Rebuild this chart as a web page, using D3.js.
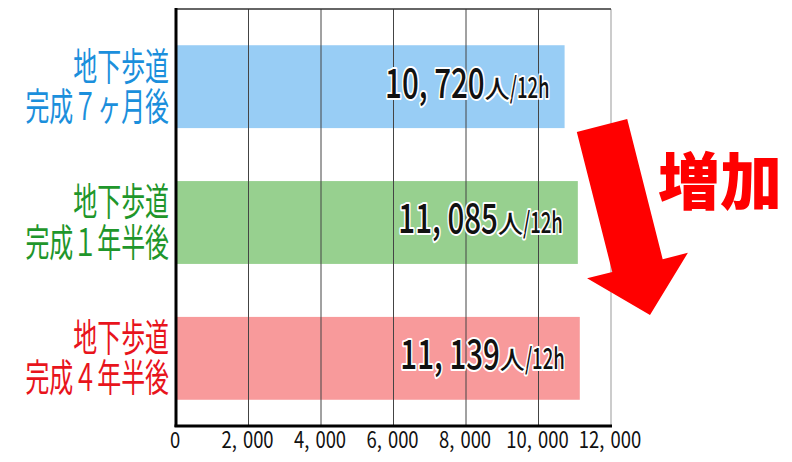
<!DOCTYPE html>
<html><head><meta charset="utf-8">
<script src="https://cdn.jsdelivr.net/npm/d3@7"></script>
<style>html,body{margin:0;padding:0;background:#fff;}</style>
</head><body>
<svg id="chart" width="792" height="462"></svg>
<script>
const categories = [["地下歩道","完成７ヶ月後"],["地下歩道","完成１年半後"],["地下歩道","完成４年半後"]];
const values = [10720, 11085, 11139];
const unitMain = "人";
const unitSub = "/12h";
const tickValues = [0, 2000, 4000, 6000, 8000, 10000, 12000];
const barColors = ["#98cdf5", "#97d08f", "#f89a9b"];
const textColors = ["#1b8fdc", "#1f962b", "#e8141c"];
const annotation = "増加";

const svg = d3.select("#chart");
const m = {left:176, top:9, right:611, bottom:426};
const x = d3.scaleLinear().domain([0,12000]).range([m.left, m.right]);
const y = d3.scaleBand().domain(d3.range(categories.length)).range([m.top, m.bottom])
  .paddingInner(0.39).paddingOuter(0.23).align(0.58);
const fmtTick = v => d3.format(",")(v).replace(",", ",\u2004");
const fmtVal = v => d3.format(",")(v).replace(",", ", ");
const FONT = "'Noto Sans CJK JP', 'Noto Sans', sans-serif";

svg.append("rect").attr("width",792).attr("height",462).attr("fill","#fff");

// bars
svg.selectAll("rect.bar").data(values).join("rect").attr("class","bar")
  .attr("x", x(0)).attr("y", (d,i)=>y(i))
  .attr("width", d=>x(d)-x(0)).attr("height", y.bandwidth())
  .attr("fill", (d,i)=>barColors[i]);

// gridlines
svg.selectAll("line.grid").data(tickValues.slice(1)).join("line").attr("class","grid")
  .attr("x1", d=>x(d)).attr("x2", d=>x(d)).attr("y1", m.top).attr("y2", m.bottom)
  .attr("stroke", d=> d===12000 ? "#999" : "#444").attr("stroke-width", 1);

// top border
svg.append("line").attr("x1", x(0)).attr("x2", x(12000)).attr("y1", m.top).attr("y2", m.top)
  .attr("stroke","#333").attr("stroke-width",1.5);
// bottom axis line
svg.append("line").attr("x1", x(0)-1.5).attr("x2", x(12000)+1).attr("y1", m.bottom).attr("y2", m.bottom)
  .attr("stroke","#000").attr("stroke-width",3);
// left axis line
svg.append("line").attr("x1", x(0)).attr("x2", x(0)).attr("y1", m.top-1).attr("y2", m.bottom+1)
  .attr("stroke","#000").attr("stroke-width",3);

// tick labels
svg.selectAll("g.tick").data(tickValues).join("g").attr("class","tick")
  .attr("transform", d=>`translate(${x(d)-1},448) scale(0.82,1)`)
  .append("text").attr("text-anchor","middle")
  .attr("font-family", FONT).attr("font-size", 22.5).attr("fill","#111")
  .text(d=>fmtTick(d));

// category labels (one text, two lines)
categories.forEach((lines,i)=>{
  const cy = y(i) + y.bandwidth()/2;
  const t = svg.append("g").attr("transform", `translate(169,${cy - 7}) scale(0.63,1)`)
    .append("text").attr("text-anchor","end")
    .attr("font-family", FONT).attr("font-size", 38).attr("fill", textColors[i]);
  lines.forEach((ln,j)=>{
    t.append("tspan").attr("x",0).attr("dy", j===0 ? 0 : 40).text(ln);
  });
});

// value labels
values.forEach((v,i)=>{
  const cy = y(i) + y.bandwidth()/2;
  const base = cy + 11;
  let R = x(v) - 15;
  const halo = sel => sel.attr("font-family", FONT).attr("fill","#111")
    .attr("stroke","#fff").attr("stroke-width",4).attr("paint-order","stroke").attr("stroke-linejoin","round");
  // "/12h"
  const sSub = 0.64;
  const tSub = svg.append("g").attr("transform", `translate(${R},${base}) scale(${sSub},1)`)
    .append("text").attr("text-anchor","end").attr("font-size", 29).attr("font-weight",500)
    .call(halo).text(unitSub);
  R -= tSub.node().getComputedTextLength()*sSub;
  // "人"
  const tMain = svg.append("text").attr("x", R).attr("y", base).attr("text-anchor","end")
    .attr("font-size", 25).attr("font-weight",500).call(halo).text(unitMain);
  R -= tMain.node().getComputedTextLength();
  // number
  svg.append("g").attr("transform", `translate(${R},${base}) scale(0.72,1)`)
    .append("text").attr("text-anchor","end").attr("font-size", 41).attr("font-weight",500)
    .call(halo).text(fmtVal(v));
});

// arrow annotation
(function(){
  const s = [602,125.5], e = [650,315];
  const dx = e[0]-s[0], dy = e[1]-s[1], L = Math.hypot(dx,dy);
  const u = [dx/L, dy/L], n = [u[1], -u[0]];
  const sw = 26, hw = 52, hl = 51;
  const hb = [e[0]-u[0]*hl, e[1]-u[1]*hl];
  const P = (p, k) => [p[0]+n[0]*k, p[1]+n[1]*k];
  const pts = [P(s,-sw), P(s,sw), P(hb,sw), P(hb,hw), e, P(hb,-hw), P(hb,-sw)];
  svg.append("polygon").attr("points", pts.map(p=>p.join(",")).join(" ")).attr("fill","#ff0000");
})();

svg.append("text").attr("x", 720).attr("y", 205).attr("text-anchor","middle")
  .attr("font-family", FONT).attr("font-weight", 900).attr("font-size", 62)
  .attr("fill","#ff0000").text(annotation);
</script>
</body></html>
